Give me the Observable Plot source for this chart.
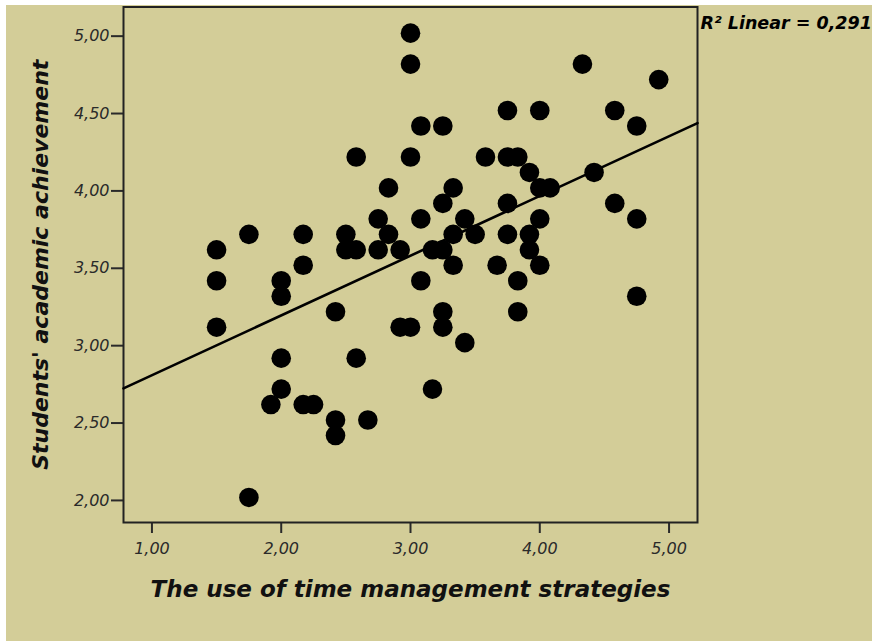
<!DOCTYPE html>
<html>
<head>
<meta charset="utf-8">
<script src="https://cdn.jsdelivr.net/npm/d3@7"></script>
<script src="https://cdn.jsdelivr.net/npm/@observablehq/plot@0.6"></script>
<style>
  html, body { margin: 0; padding: 0; background: #fff; overflow: hidden; width: 872px; height: 641px; }
  #chart { position: absolute; left: 6px; top: 5px; width: 866px; height: 636px; background: #d3cd98; }
  #chart svg { overflow: visible; display: block; }
</style>
</head>
<body>
<div id="chart"></div>
<script>
// Scores on the time-management scale (x) and academic achievement (y), one entry per student
const timeManagement = [
  1.5, 1.5, 1.5, 1.75, 1.75, 1.92, 2, 2, 2, 2,
  2.17, 2.17, 2.17, 2.25, 2.42, 2.42, 2.42, 2.5, 2.5, 2.58,
  2.58, 2.58, 2.67, 2.75, 2.75, 2.83, 2.83, 2.92, 2.92, 3,
  3, 3, 3, 3.08, 3.08, 3.08, 3.17, 3.17, 3.25, 3.25,
  3.25, 3.25, 3.25, 3.33, 3.33, 3.33, 3.42, 3.42, 3.5, 3.58,
  3.67, 3.75, 3.75, 3.75, 3.75, 3.83, 3.83, 3.83, 3.92, 3.92,
  3.92, 4, 4, 4, 4, 4.08, 4.33, 4.42, 4.58, 4.58,
  4.75, 4.75, 4.75, 4.92
];
const achievement = [
  3.6, 3.4, 3.1, 3.7, 2.0, 2.6, 3.4, 3.3, 2.9, 2.7,
  3.7, 3.5, 2.6, 2.6, 3.2, 2.5, 2.4, 3.7, 3.6, 3.6,
  4.2, 2.9, 2.5, 3.8, 3.6, 4.0, 3.7, 3.6, 3.1, 3.1,
  5.0, 4.8, 4.2, 4.4, 3.8, 3.4, 2.7, 3.6, 4.4, 3.9,
  3.6, 3.2, 3.1, 4.0, 3.7, 3.5, 3.8, 3.0, 3.7, 4.2,
  3.5, 4.5, 4.2, 3.9, 3.7, 4.2, 3.4, 3.2, 4.1, 3.7,
  3.6, 4.5, 4.0, 3.8, 3.5, 4.0, 4.8, 4.1, 4.5, 3.9,
  4.4, 3.8, 3.3, 4.7
];

const xTicks = [1, 2, 3, 4, 5];
const yTicks = [2, 2.5, 3, 3.5, 4, 4.5, 5];
const xDomain = [0.78, 5.22];
const yDomain = [1.838, 5.169];

const xTitle = "The use of time management strategies";
const yTitle = "Students' academic achievement";
const fitLabel = "R\u00B2 Linear = 0,291";

const points = timeManagement.map((v, i) => ({x: v, y: achievement[i]}));

// Ordinary least-squares fit, drawn across the full x range of the frame
const mx = d3.mean(timeManagement), my = d3.mean(achievement);
const sxy = d3.sum(timeManagement, (v, i) => (v - mx) * (achievement[i] - my));
const sxx = d3.sum(timeManagement, v => (v - mx) ** 2);
const slope = sxy / sxx, intercept = my - slope * mx;
const fitLine = xDomain.map(v => ({x: v, y: intercept + slope * v}));

const commaFormat = d => d3.format(".2f")(d).replace(".", ",");

const chart = Plot.plot({
  width: 866,
  height: 636,
  marginLeft: 117,
  marginRight: 175,
  marginTop: 1.5,
  marginBottom: 119,
  style: {fontFamily: "DejaVu Sans", fontSize: "16px", color: "#2a2a2a", background: "transparent"},
  x: {domain: xDomain},
  y: {domain: yDomain},
  marks: [
    Plot.axisX({ticks: xTicks, tickFormat: commaFormat, tickSize: 11, tickPadding: 9, strokeWidth: 2, fontStyle: "italic", fontSize: 16, label: null}),
    Plot.axisY({ticks: yTicks, tickFormat: commaFormat, tickSize: 12, tickPadding: 2, strokeWidth: 2, fontStyle: "italic", fontSize: 16, dy: 3, label: null}),
    Plot.frame({stroke: "#222", strokeWidth: 2}),
    Plot.line(fitLine, {x: "x", y: "y", stroke: "#000", strokeWidth: 2.6}),
    Plot.dot(points, {x: "x", y: "y", r: 9.8, fill: "#000", stroke: null}),
    Plot.text([yTitle], {frameAnchor: "left", rotate: -90, textAnchor: "middle", lineAnchor: "middle", dx: -83, fontSize: 22, fontWeight: "bold", fontStyle: "italic", fill: "#111"}),
    Plot.text([xTitle], {frameAnchor: "bottom", dy: 74, fontSize: 23, fontWeight: "bold", fontStyle: "italic", fill: "#111"}),
    Plot.text([fitLabel], {frameAnchor: "top-right", textAnchor: "start", lineAnchor: "top", dx: 3, dy: 10, fontSize: 17.5, fontWeight: "bold", fontStyle: "italic", fill: "#000"})
  ]
});

document.getElementById("chart").appendChild(chart);
</script>
</body>
</html>
